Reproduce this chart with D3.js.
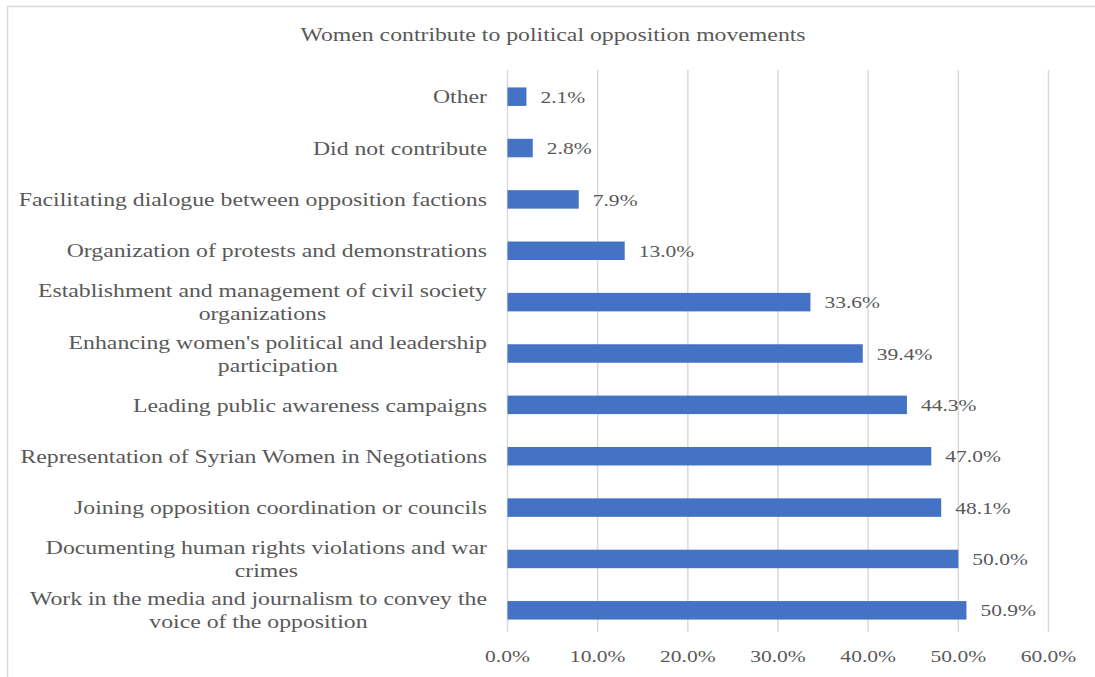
<!DOCTYPE html>
<html>
<head>
<meta charset="utf-8">
<script src="https://cdn.jsdelivr.net/npm/d3@7"></script>
<style>
  html, body { margin: 0; padding: 0; background: #fff; }
  svg { display: block; }
  text { font-family: "Liberation Serif", "Times New Roman", serif; fill: #595959; }
</style>
</head>
<body>
<svg id="chart" width="1095" height="677"></svg>
<script>
// Survey answers, listed top to bottom as drawn
const categories = [
  "Other",
  "Did not contribute",
  "Facilitating dialogue between opposition factions",
  "Organization of protests and demonstrations",
  "Establishment and management of civil society organizations",
  "Enhancing women's political and leadership participation",
  "Leading public awareness campaigns",
  "Representation of Syrian Women in Negotiations",
  "Joining opposition coordination or councils",
  "Documenting human rights violations and war crimes",
  "Work in the media and journalism to convey the voice of the opposition"
];
const values = [2.1, 2.8, 7.9, 13.0, 33.6, 39.4, 44.3, 47.0, 48.1, 50.0, 50.9];
const xTicks = [0, 10, 20, 30, 40, 50, 60];
// Manual line breaks for long category names
const labelLines = [
  ["Other"],
  ["Did not contribute"],
  ["Facilitating dialogue between opposition factions"],
  ["Organization of protests and demonstrations"],
  ["Establishment and management of civil society", "organizations"],
  ["Enhancing women's political and leadership", "participation"],
  ["Leading public awareness campaigns"],
  ["Representation of Syrian Women in Negotiations"],
  ["Joining opposition coordination or councils"],
  ["Documenting human rights violations and war", "crimes"],
  ["Work in the media and journalism to convey the", "voice of the opposition"]
];
const title = "Women contribute to political opposition movements";

// The chart's typeface is set wide, so text is stretched horizontally
const wideLabel = 1.25;
const wideNum = 1.23;

const svg = d3.select("#chart");

// Outer chart frame
svg.append("rect")
  .attr("x", 7.5).attr("y", 6.5)
  .attr("width", 1100).attr("height", 700)
  .attr("fill", "none").attr("stroke", "#d9d9d9").attr("stroke-width", 1.5);

const x = d3.scaleLinear().domain([0, 60]).range([507.5, 1048.5]);
const y = d3.scaleBand().domain(categories).range([71, 636]).paddingInner(0.64).paddingOuter(0.32);

function placeText(sel, tx, ty, s) {
  return sel.attr("transform", `translate(${tx},${ty}) scale(${s},1)`);
}

// Title
placeText(svg.append("text"), 553, 41, wideLabel)
  .attr("text-anchor", "middle")
  .attr("font-size", 19)
  .text(title);

// Vertical gridlines
svg.append("g").selectAll("line")
  .data(xTicks)
  .join("line")
  .attr("x1", d => x(d)).attr("x2", d => x(d))
  .attr("y1", 70).attr("y2", 632)
  .attr("stroke", "#d9d9d9").attr("stroke-width", 1.5);

// Bottom axis tick labels
svg.append("g").selectAll("text")
  .data(xTicks)
  .join("text")
  .attr("transform", d => `translate(${x(d)},662) scale(${wideNum},1)`)
  .attr("text-anchor", "middle")
  .attr("font-size", 17.5)
  .text(d => d3.format(".1f")(d) + "%");

// Bars
svg.append("g").selectAll("rect")
  .data(values)
  .join("rect")
  .attr("x", x(0))
  .attr("y", (d, i) => y(categories[i]))
  .attr("width", d => x(d) - x(0))
  .attr("height", y.bandwidth())
  .attr("fill", "#4472c4");

// Value labels
svg.append("g").selectAll("text")
  .data(values)
  .join("text")
  .attr("transform", (d, i) => `translate(${x(d) + 14},${y(categories[i]) + y.bandwidth() / 2}) scale(${wideNum},1)`)
  .attr("dy", "0.35em")
  .attr("font-size", 17.5)
  .text(d => d3.format(".1f")(d) + "%");

// Category labels: lines centred within a block right-aligned to the axis
const labelRight = 487;
const lineGap = 23;
categories.forEach((c, i) => {
  const cy = y(c) + y.bandwidth() / 2;
  const lines = labelLines[i];
  const g = svg.append("g");
  const texts = lines.map(ln => g.append("text")
    .attr("font-size", 19)
    .attr("dy", "0.35em")
    .attr("text-anchor", "middle")
    .text(ln));
  const maxW = d3.max(texts, t => t.node().getComputedTextLength()) * wideLabel;
  texts.forEach((t, j) => placeText(t, labelRight - maxW / 2,
    cy + (j - (lines.length - 1) / 2) * lineGap, wideLabel));
});
</script>
</body>
</html>
